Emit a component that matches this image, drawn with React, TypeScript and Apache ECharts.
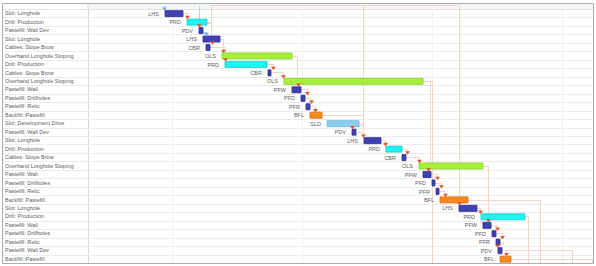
import React, { useEffect, useRef } from "react";
import * as echarts from "echarts";

// ---- data ----
const taskNames = [
  "Slot: Longhole",
  "Drill: Production",
  "Pastefill: Wall Dev",
  "Slot: Longhole",
  "Cables: Stope Brow",
  "Overhand Longhole Stoping",
  "Drill: Production",
  "Cables: Stope Brow",
  "Overhand Longhole Stoping",
  "Pastefill: Wall",
  "Pastefill: Drillholes",
  "Pastefill: Retic",
  "Backfill: Pastefill",
  "Slot: Development Drive",
  "Pastefill: Wall Dev",
  "Slot: Longhole",
  "Drill: Production",
  "Cables: Stope Brow",
  "Overhand Longhole Stoping",
  "Pastefill: Wall",
  "Pastefill: Drillholes",
  "Pastefill: Retic",
  "Backfill: Pastefill",
  "Slot: Longhole",
  "Drill: Production",
  "Pastefill: Wall",
  "Pastefill: Drillholes",
  "Pastefill: Retic",
  "Pastefill: Wall Dev",
  "Backfill: Pastefill",
];
const taskCodes = [
  "LHS", "PRD", "PDV", "LHS", "CBR", "OLS", "PRD", "CBR", "OLS", "PFW",
  "PFD", "PFR", "BFL", "SLD", "PDV", "LHS", "PRD", "CBR", "OLS", "PFW",
  "PFD", "PFR", "BFL", "LHS", "PRD", "PFW", "PFD", "PFR", "PDV", "BFL",
];
const taskStart = [
  77, 99, 111, 115, 118, 134, 137, 180, 196, 204,
  213, 218, 222, 239, 264, 276, 298, 314, 331, 335,
  344, 348, 352, 371, 393, 395, 404, 408, 410, 412,
];
const taskEnd = [
  95, 119, 115, 132, 122, 204, 179, 183, 335, 213,
  217, 222, 234, 271, 268, 293, 314, 318, 395, 343,
  347, 351, 380, 389, 437, 403, 408, 412, 414, 423,
];
// day where the dependency arrow lands on each row (null = none)
const arrowDay: (number | null)[] = [
  76, 99, 111, 118, 124, 135, 137, 185, 195, 210,
  219, 223, 227, null, 264, 275, 297, 319, 331, 340,
  349, 353, 357, 371, 392, 400, 409, 414, 409, 418,
];
const blueArrowRows = [0, 3];
// dependency links: [fromRow, toRow, viaDay, kind]; -1 = from above, 30 = continues below
const links: [number, number, number, string][] = [
  [0, 1, 99, "fs"],
  [1, 2, 122, "fs"],
  [3, 5, 135, "fs"],
  [4, 6, 137, "fs"],
  [6, 7, 185, "fs"],
  [7, 8, 195, "fs"],
  [5, 9, 209, "fs"],
  [9, 10, 219, "fs"],
  [10, 11, 223, "fs"],
  [11, 12, 227, "fs"],
  [12, 15, 275, "fs"],
  [13, 14, 274, "fs"],
  [14, 15, 275, "fs"],
  [15, 16, 297, "fs"],
  [16, 17, 319, "fs"],
  [17, 18, 331, "fs"],
  [8, 19, 342, "fs"],
  [19, 20, 349, "fs"],
  [20, 21, 353, "fs"],
  [21, 22, 357, "fs"],
  [23, 24, 392, "fs"],
  [18, 25, 400, "fs"],
  [25, 26, 409, "fs"],
  [26, 27, 414, "fs"],
  [27, 28, 415, "fs"],
  [28, 29, 418, "fs"],
  [8, 30, 344, "fs"],
  [24, 30, 440, "fs"],
  [22, 30, 452, "fs"],
  [28, 30, 484, "fs"],
  [29, 30, 504, "fs"],
  [-1, 4, 123, "fs"],
  [-1, 15, 275, "fs"],
  [-1, 23, 371, "fs"],
  [-1, 0, 76, "ss"],
  [-1, 3, 111, "ss"],
];
const topRail = [123, 371];
const gridDays = [84, 214, 344, 474];

const codeColors: Record<string, [string, string]> = {
  LHS: ["#4141b6", "#2b2b8e"],
  PDV: ["#4141b6", "#2b2b8e"],
  PFW: ["#4141b6", "#2b2b8e"],
  PFD: ["#4141b6", "#2b2b8e"],
  PFR: ["#4141b6", "#2b2b8e"],
  CBR: ["#4141b6", "#2b2b8e"],
  PRD: ["#1ff2f2", "#18cccc"],
  OLS: ["#a4f03b", "#88d025"],
  BFL: ["#f7891e", "#d86f0e"],
  SLD: ["#8ecbf3", "#6cb2e0"],
};

const FONT = "'Liberation Sans', Arial, sans-serif";

export default function App() {
  const ref = useRef<HTMLDivElement>(null);
  useEffect(() => {
    if (!ref.current) return;
    const chart = echarts.init(ref.current, undefined, { renderer: "svg" });

    const geom = (api: any) => {
      const y0 = api.coord([0, 0])[1];
      const h = api.size([0, 1])[1];
      return { y0, h, yc: (i: number) => y0 + i * h, top: (i: number) => y0 + i * h - h / 2 };
    };

    const option: any = {
      animation: false,
      grid: { left: 88, right: 3, top: 9, bottom: 3, containLabel: false },
      xAxis: {
        type: "value",
        min: 0,
        max: 505,
        show: false,
        splitLine: { show: false },
      },
      yAxis: {
        type: "category",
        inverse: true,
        data: taskNames,
        axisLine: { show: true, lineStyle: { color: "#d8d8d8" } },
        axisTick: { show: false },
        splitLine: { show: false },
        axisLabel: {
          align: "left",
          margin: 83,
          fontSize: 5.5,
          color: "#606060",
          fontFamily: FONT,
          interval: 0,
        },
      },
      graphic: [
        {
          type: "rect",
          z: 0,
          shape: { x: 88, y: 3.5, width: 505, height: 5.5 },
          style: { fill: "#f3f5f7" },
          silent: true,
        },
        {
          type: "rect",
          z: 100,
          shape: { x: 2.5, y: 3.5, width: 591, height: 260 },
          style: { fill: "none", stroke: "#a9adb2", lineWidth: 1 },
          silent: true,
        },
        {
          type: "line",
          z: 100,
          shape: { x1: 88, y1: 3.5, x2: 88, y2: 9 },
          style: { stroke: "#d8d8d8", lineWidth: 1 },
          silent: true,
        },
      ],
      series: [
        {
          // table row lines
          type: "custom",
          z: 1,
          silent: true,
          data: taskNames.map((_, i) => [0, i]),
          encode: { x: 0, y: 1 },
          renderItem: (params: any, api: any) => {
            const g = geom(api);
            const i = api.value(1);
            const children: any[] = [];
            const yb = Math.round(g.top(i + 1)) + 0.5;
            children.push({
              type: "line",
              shape: { x1: 3, y1: yb, x2: 593, y2: yb },
              style: { stroke: "#ececec", lineWidth: 1 },
            });
            if (i === 0) {
              const yt = Math.round(g.top(0)) + 0.5;
              children.push({
                type: "line",
                shape: { x1: 3, y1: yt, x2: 593, y2: yt },
                style: { stroke: "#e2e2e2", lineWidth: 1 },
              });
            }
            return { type: "group", children };
          },
        },
        {
          // vertical time grid
          type: "custom",
          z: 1,
          silent: true,
          data: gridDays.map((d) => [d, 0]),
          encode: { x: 0, y: 1 },
          renderItem: (params: any, api: any) => {
            const g = geom(api);
            const x = Math.round(api.coord([api.value(0), 0])[0]) + 0.5;
            return {
              type: "line",
              shape: { x1: x, y1: g.top(0), x2: x, y2: g.top(30) },
              style: { stroke: "#f0f0f0", lineWidth: 1 },
            };
          },
        },
        {
          // dependency links
          type: "custom",
          z: 2,
          silent: true,
          data: links.map((l, k) => [l[2], Math.max(0, Math.min(29, l[1])), k]),
          encode: { x: 0, y: 1 },
          renderItem: (params: any, api: any) => {
            const g = geom(api);
            const k = api.value(2);
            const [from, to, via, kind] = links[k];
            const color = kind === "ss" ? "#b6d6f0" : "#f3d5c5";
            const vx = Math.round(api.coord([via, 0])[0]) + 0.5;
            const children: any[] = [];
            const pts: number[][] = [];
            if (from >= 0) {
              const ex = api.coord([taskEnd[from], 0])[0];
              pts.push([ex, Math.round(g.yc(from)) + 0.5]);
              pts.push([vx, Math.round(g.yc(from)) + 0.5]);
            } else {
              pts.push([vx, Math.round(g.yc(-1)) + 0.5]);
            }
            if (to >= 30) {
              pts.push([vx, g.top(30)]);
            } else {
              const ad = arrowDay[to];
              const ax = Math.round(api.coord([ad == null ? via : ad, 0])[0]) + 0.5;
              const ty = g.top(to);
              if (Math.abs(ax - vx) > 0.6) {
                pts.push([vx, Math.round(ty - 2.5) + 0.5]);
                pts.push([ax, Math.round(ty - 2.5) + 0.5]);
                pts.push([ax, ty]);
              } else {
                pts.push([vx, ty]);
              }
            }
            children.push({
              type: "polyline",
              shape: { points: pts },
              style: { stroke: color, lineWidth: 1, fill: "none" },
            });
            if (from === -1 && k === links.findIndex((l) => l[0] === -1 && l[3] === "fs")) {
              const y = Math.round(g.yc(-1)) + 0.5;
              children.push({
                type: "line",
                shape: {
                  x1: api.coord([topRail[0], 0])[0],
                  y1: y,
                  x2: api.coord([topRail[1], 0])[0],
                  y2: y,
                },
                style: { stroke: color, lineWidth: 1 },
              });
            }
            return { type: "group", children };
          },
        },
        {
          // task bars, labels, arrowheads
          type: "custom",
          z: 3,
          silent: true,
          data: taskNames.map((_, i) => [taskStart[i], taskEnd[i], i]),
          encode: { x: [0, 1], y: 2 },
          renderItem: (params: any, api: any) => {
            const g = geom(api);
            const i = api.value(2);
            const x0 = api.coord([api.value(0), i])[0];
            const x1 = api.coord([api.value(1), i])[0];
            const yc = g.yc(i);
            const code = taskCodes[i];
            const [fill, stroke] = codeColors[code];
            const children: any[] = [
              {
                type: "rect",
                shape: { x: x0, y: yc - 2.6, width: Math.max(2, x1 - x0), height: 6 },
                style: { fill, stroke, lineWidth: 0.8 },
              },
              {
                type: "text",
                style: {
                  x: x0 - 6,
                  y: yc + 0.5,
                  text: code,
                  align: "right",
                  verticalAlign: "middle",
                  fontSize: 5.5,
                  fontFamily: FONT,
                  fill: "#606060",
                },
              },
            ];
            const ad = arrowDay[i];
            if (ad != null) {
              const ax = Math.round(api.coord([ad, i])[0]) + 0.5;
              const ty = g.top(i);
              const blue = blueArrowRows.indexOf(i) >= 0;
              children.push({
                type: "polygon",
                shape: {
                  points: [
                    [ax - 2.5, ty - 1.6],
                    [ax + 2.5, ty - 1.6],
                    [ax, ty + 1.8],
                  ],
                },
                style: { fill: blue ? "#6fa8dc" : "#e2552d" },
              });
            }
            return { type: "group", children };
          },
        },
      ],
    };
    chart.setOption(option);
    return () => chart.dispose();
  }, []);

  return (
    <div
      ref={ref}
      style={{ position: "fixed", left: 0, top: 0, width: 596, height: 266, background: "#fff" }}
    />
  );
}
